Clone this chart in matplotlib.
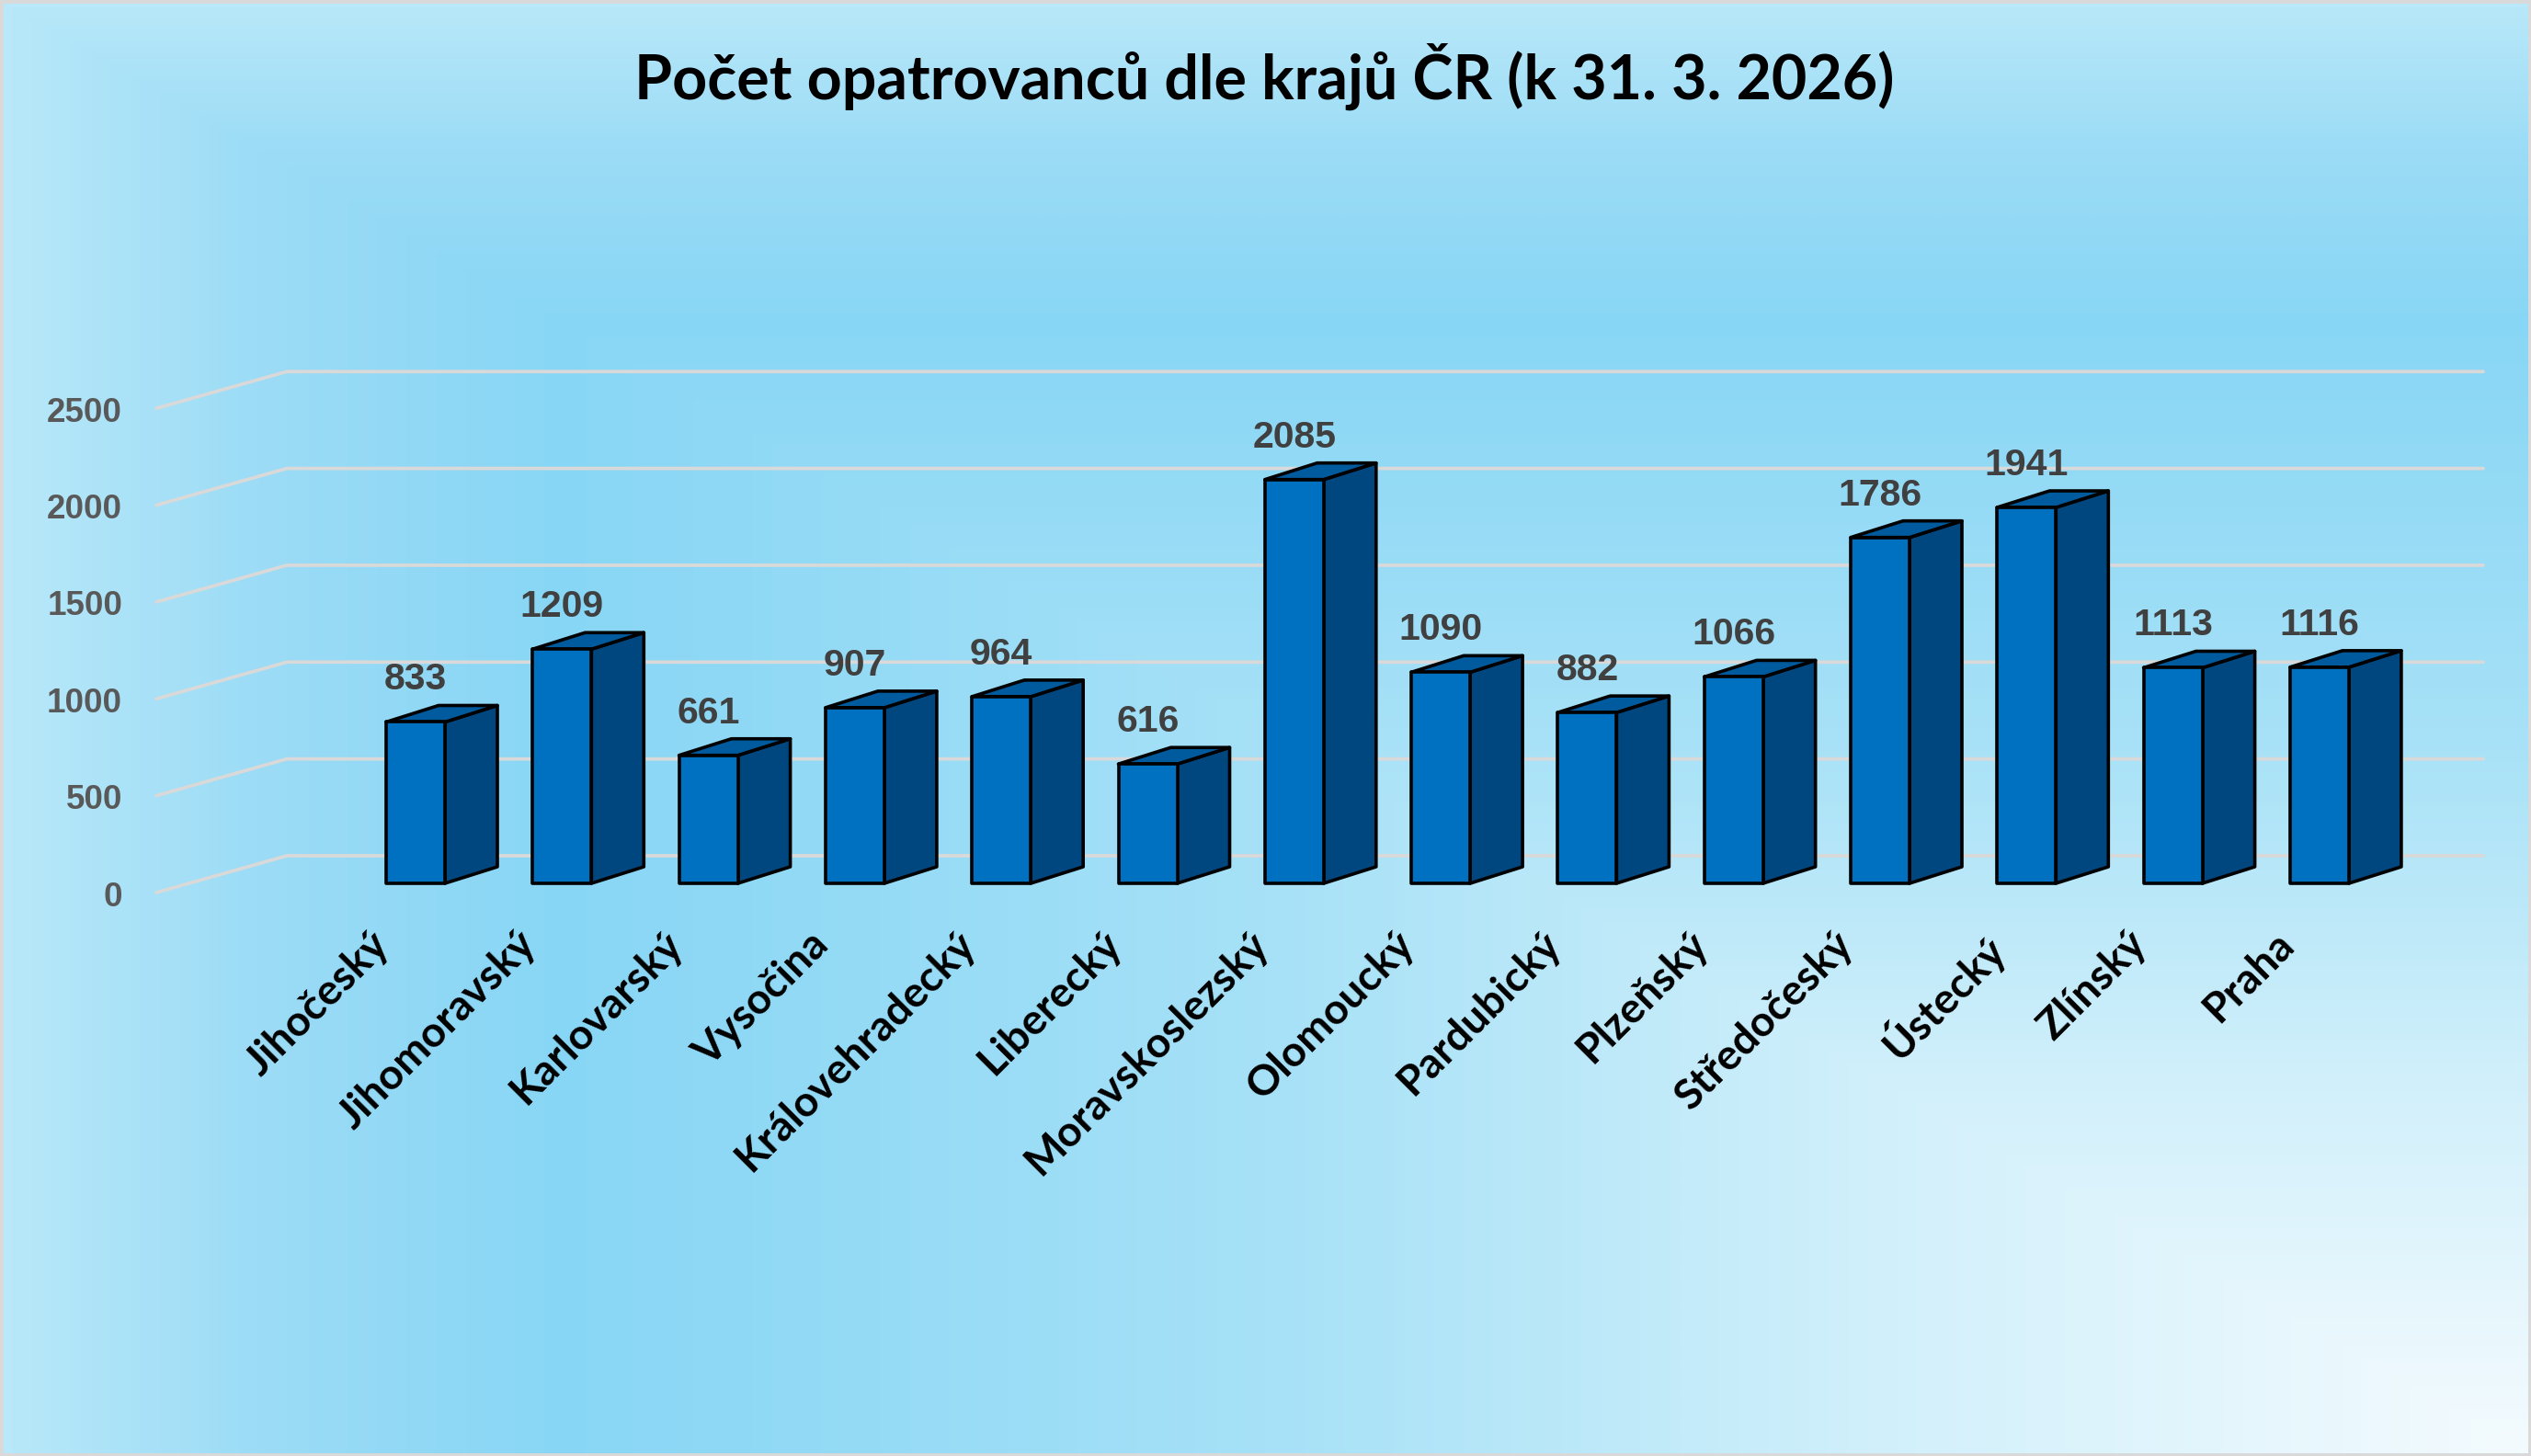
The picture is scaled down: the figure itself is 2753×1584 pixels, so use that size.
import numpy as np
import matplotlib
matplotlib.use('Agg')
import matplotlib.pyplot as plt
from matplotlib.patches import Polygon, Rectangle
from matplotlib.colors import LinearSegmentedColormap

# ---------------- data ----------------
regions = ["Jihočeský", "Jihomoravský", "Karlovarský", "Vysočina", "Královehradecký",
           "Liberecký", "Moravskoslezský", "Olomoucký", "Pardubický", "Plzeňský",
           "Středočeský", "Ústecký", "Zlínský", "Praha"]
counts = [833, 1209, 661, 907, 964, 616, 2085, 1090, 882, 1066, 1786, 1941, 1113, 1116]
y_ticks = [0, 500, 1000, 1500, 2000, 2500]
title = "Počet opatrovanců dle krajů ČR (k 31. 3. 2026)"

# ---------------- figure ----------------
W, H = 2753, 1584
DPI = 100
fig = plt.figure(figsize=(W / DPI, H / DPI), dpi=DPI)
ax = fig.add_axes([0, 0, 1, 1])

# pixel geometry of the pseudo-3D layout
x0_px, sx = 452.0, 159.3      # first category centre, px per category
y0_px, sy = 971.0, 0.2107     # value 0 at floor front, px per unit
ax.set_xlim(-x0_px / sx, (W - x0_px) / sx)
ax.set_ylim((y0_px - H) / sy, y0_px / sy)
ax.axis('off')
xl, yl = ax.get_xlim(), ax.get_ylim()

# ---------------- background gradient (rectangular path from bottom-right) ----------------
gy, gx = np.mgrid[0:1:400j, 0:1:700j]
t = np.maximum(1 - gx, 1 - gy)
cmap = LinearSegmentedColormap.from_list("bg", [
    (0.00, "#f4fbfe"),
    (0.25, "#d2f0fb"),
    (0.50, "#a6e1f7"),
    (0.78, "#88d6f5"),
    (0.90, "#9cdcf6"),
    (1.00, "#b8e8f9"),
])
ax.imshow(t, cmap=cmap, vmin=0, vmax=1, extent=[xl[0], xl[1], yl[0], yl[1]],
          origin='upper', aspect='auto', interpolation='bilinear', zorder=0)

# ---------------- gridlines (floor diagonal + back wall) ----------------
floor_dx = 142 / sx
floor_dy = 40 / sy
front_left = (170 - x0_px) / sx
back_right = (2701 - x0_px) / sx
for v in y_ticks:
    ax.plot([front_left, front_left + floor_dx, back_right],
            [v, v + floor_dy, v + floor_dy],
            color="#d9d9d9", lw=2.7, solid_capstyle='round', zorder=1)

# ---------------- tick labels ----------------
tick_x = (133 - x0_px) / sx
tick_dy = -5 / sy
for v in y_ticks:
    ax.text(tick_x, v + tick_dy, str(v), ha='right', va='center', fontsize=26.5,
            fontweight='bold', family=['Liberation Sans', 'DejaVu Sans'],
            color="#595959", zorder=5)

# ---------------- bars ----------------
half_w = 32 / sx
bdx = 57 / sx
bdy = 18 / sy
base = 10 / sy
c_front, c_side, c_top = "#0070C0", "#00467F", "#005A9E"
edge_kw = dict(edgecolor="black", lw=2.6, joinstyle='round', zorder=3)
for i, v in enumerate(counts):
    l, r = i - half_w, i + half_w
    b, tp = base, base + v
    side = Polygon([(r, b), (r + bdx, b + bdy), (r + bdx, tp + bdy), (r, tp)],
                   closed=True, facecolor=c_side, **edge_kw)
    top = Polygon([(l, tp), (l + bdx, tp + bdy), (r + bdx, tp + bdy), (r, tp)],
                  closed=True, facecolor=c_top, **edge_kw)
    front = Polygon([(l, b), (r, b), (r, tp), (l, tp)],
                    closed=True, facecolor=c_front, **edge_kw)
    for p in (side, top, front):
        ax.add_patch(p)
    ax.annotate(str(v), xy=(i, tp), xytext=(0, 46), textcoords='offset pixels',
                ha='center', va='center', fontsize=29.5, fontweight='bold',
                family=['Liberation Sans', 'DejaVu Sans'], color="#404040", zorder=6)

# ---------------- fit helpers ----------------
renderer = fig.canvas.get_renderer()

def fit_size(txt, fam, target_px, start=30):
    tmp = fig.text(0, 0, txt, fontsize=start, fontweight='bold', family=fam)
    w = tmp.get_window_extent(renderer=renderer).width
    tmp.remove()
    return start * target_px / w

lab_fam = ['Lato', 'DejaVu Sans']
lab_size = fit_size("Jihomoravský", lab_fam, 283)

# ---------------- category labels ----------------
lab_dx = -50 / sx
lab_y = (y0_px - 1006) / sy
for i, name in enumerate(regions):
    ax.text(i + lab_dx, lab_y, name, rotation=45, rotation_mode='anchor',
            ha='right', va='top', fontsize=lab_size, fontweight='bold',
            family=lab_fam, color="black", zorder=5)

# ---------------- title ----------------
title_fam = ['Lato', 'DejaVu Sans']
title_size = fit_size(title, title_fam, 1370, start=44)
fig.text(1375 / W, 1 - 83 / H, title, ha='center', va='center', fontsize=title_size,
         fontweight='bold', family=title_fam, color="black")

# ---------------- border ----------------
fig.patches.append(Rectangle((0, 0), 1, 1, transform=fig.transFigure, fill=False,
                             edgecolor="#d9d9d9", lw=5, zorder=10))

fig.savefig("out.png", dpi=DPI)
